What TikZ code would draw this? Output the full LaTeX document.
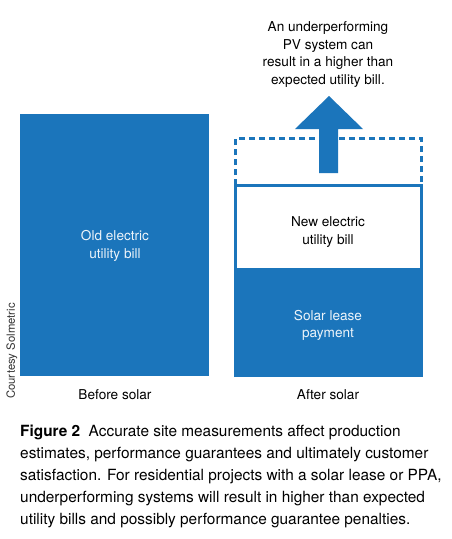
\documentclass[tikz,border=0pt]{standalone}
\usepackage{fontspec}
\setmainfont{TeX Gyre Heros}
\definecolor{barblue}{RGB}{27,117,187}
\begin{document}
\begin{tikzpicture}[x=1pt,y=-1pt,
  lbl/.style={align=center,font=\fontsize{13.6}{17.5}\selectfont,inner sep=0pt},
  wlbl/.style={lbl,text=white!92!barblue},
  outl/.style={draw=barblue,line width=3pt}]
\useasboundingbox (0,0) rectangle (451,539);
\fill[white] (0,0) rectangle (451,539);
% left bar
\fill[barblue] (20,114) rectangle (209,376);
\node[wlbl] (old) at (115,246) {Old electric\\utility bill};
\node[lbl] (before) at (115,395) {Before solar};
% right bar
\fill[barblue] (234,268) rectangle (423,377);
\draw[outl] (235.5,377) -- (235.5,185.5) -- (421.5,185.5) -- (421.5,377);
\draw[outl,dash pattern=on 6pt off 4pt] (235.5,185) -- (235.5,138.5) -- (421.5,138.5) -- (421.5,185);
\node[lbl] (new) at (328,232) {New electric\\utility bill};
\node[wlbl] (lease) at (328,325.5) {Solar lease\\payment};
\node[lbl] (after) at (328,395) {After solar};
% arrow
\fill[barblue] (319,173) -- (319,129) -- (295,129) -- (329,96) -- (363,129) -- (338,129) -- (338,173) -- cycle;
\node[lbl] (note) at (328,54.5) {An underperforming\\PV system can\\result in a higher than\\expected utility bill.};
% credit
\node[rotate=90,font=\fontsize{11.3}{13}\selectfont,text=black!80,inner sep=0pt] (credit) at (12,351) {Courtesy Solmetric};
% caption
\node[anchor=north west,align=left,inner sep=0pt,font=\fontsize{15.4}{22}\selectfont] (cap) at (20,424.5)
{\textbf{Figure 2}\ \ Accurate site measurements affect production\\
estimates, performance guarantees and ultimately customer\\
satisfaction. For residential projects with a solar lease or PPA,\\
underperforming systems will result in higher than expected\\
utility bills and possibly performance guarantee penalties.};
\end{tikzpicture}
\end{document}
